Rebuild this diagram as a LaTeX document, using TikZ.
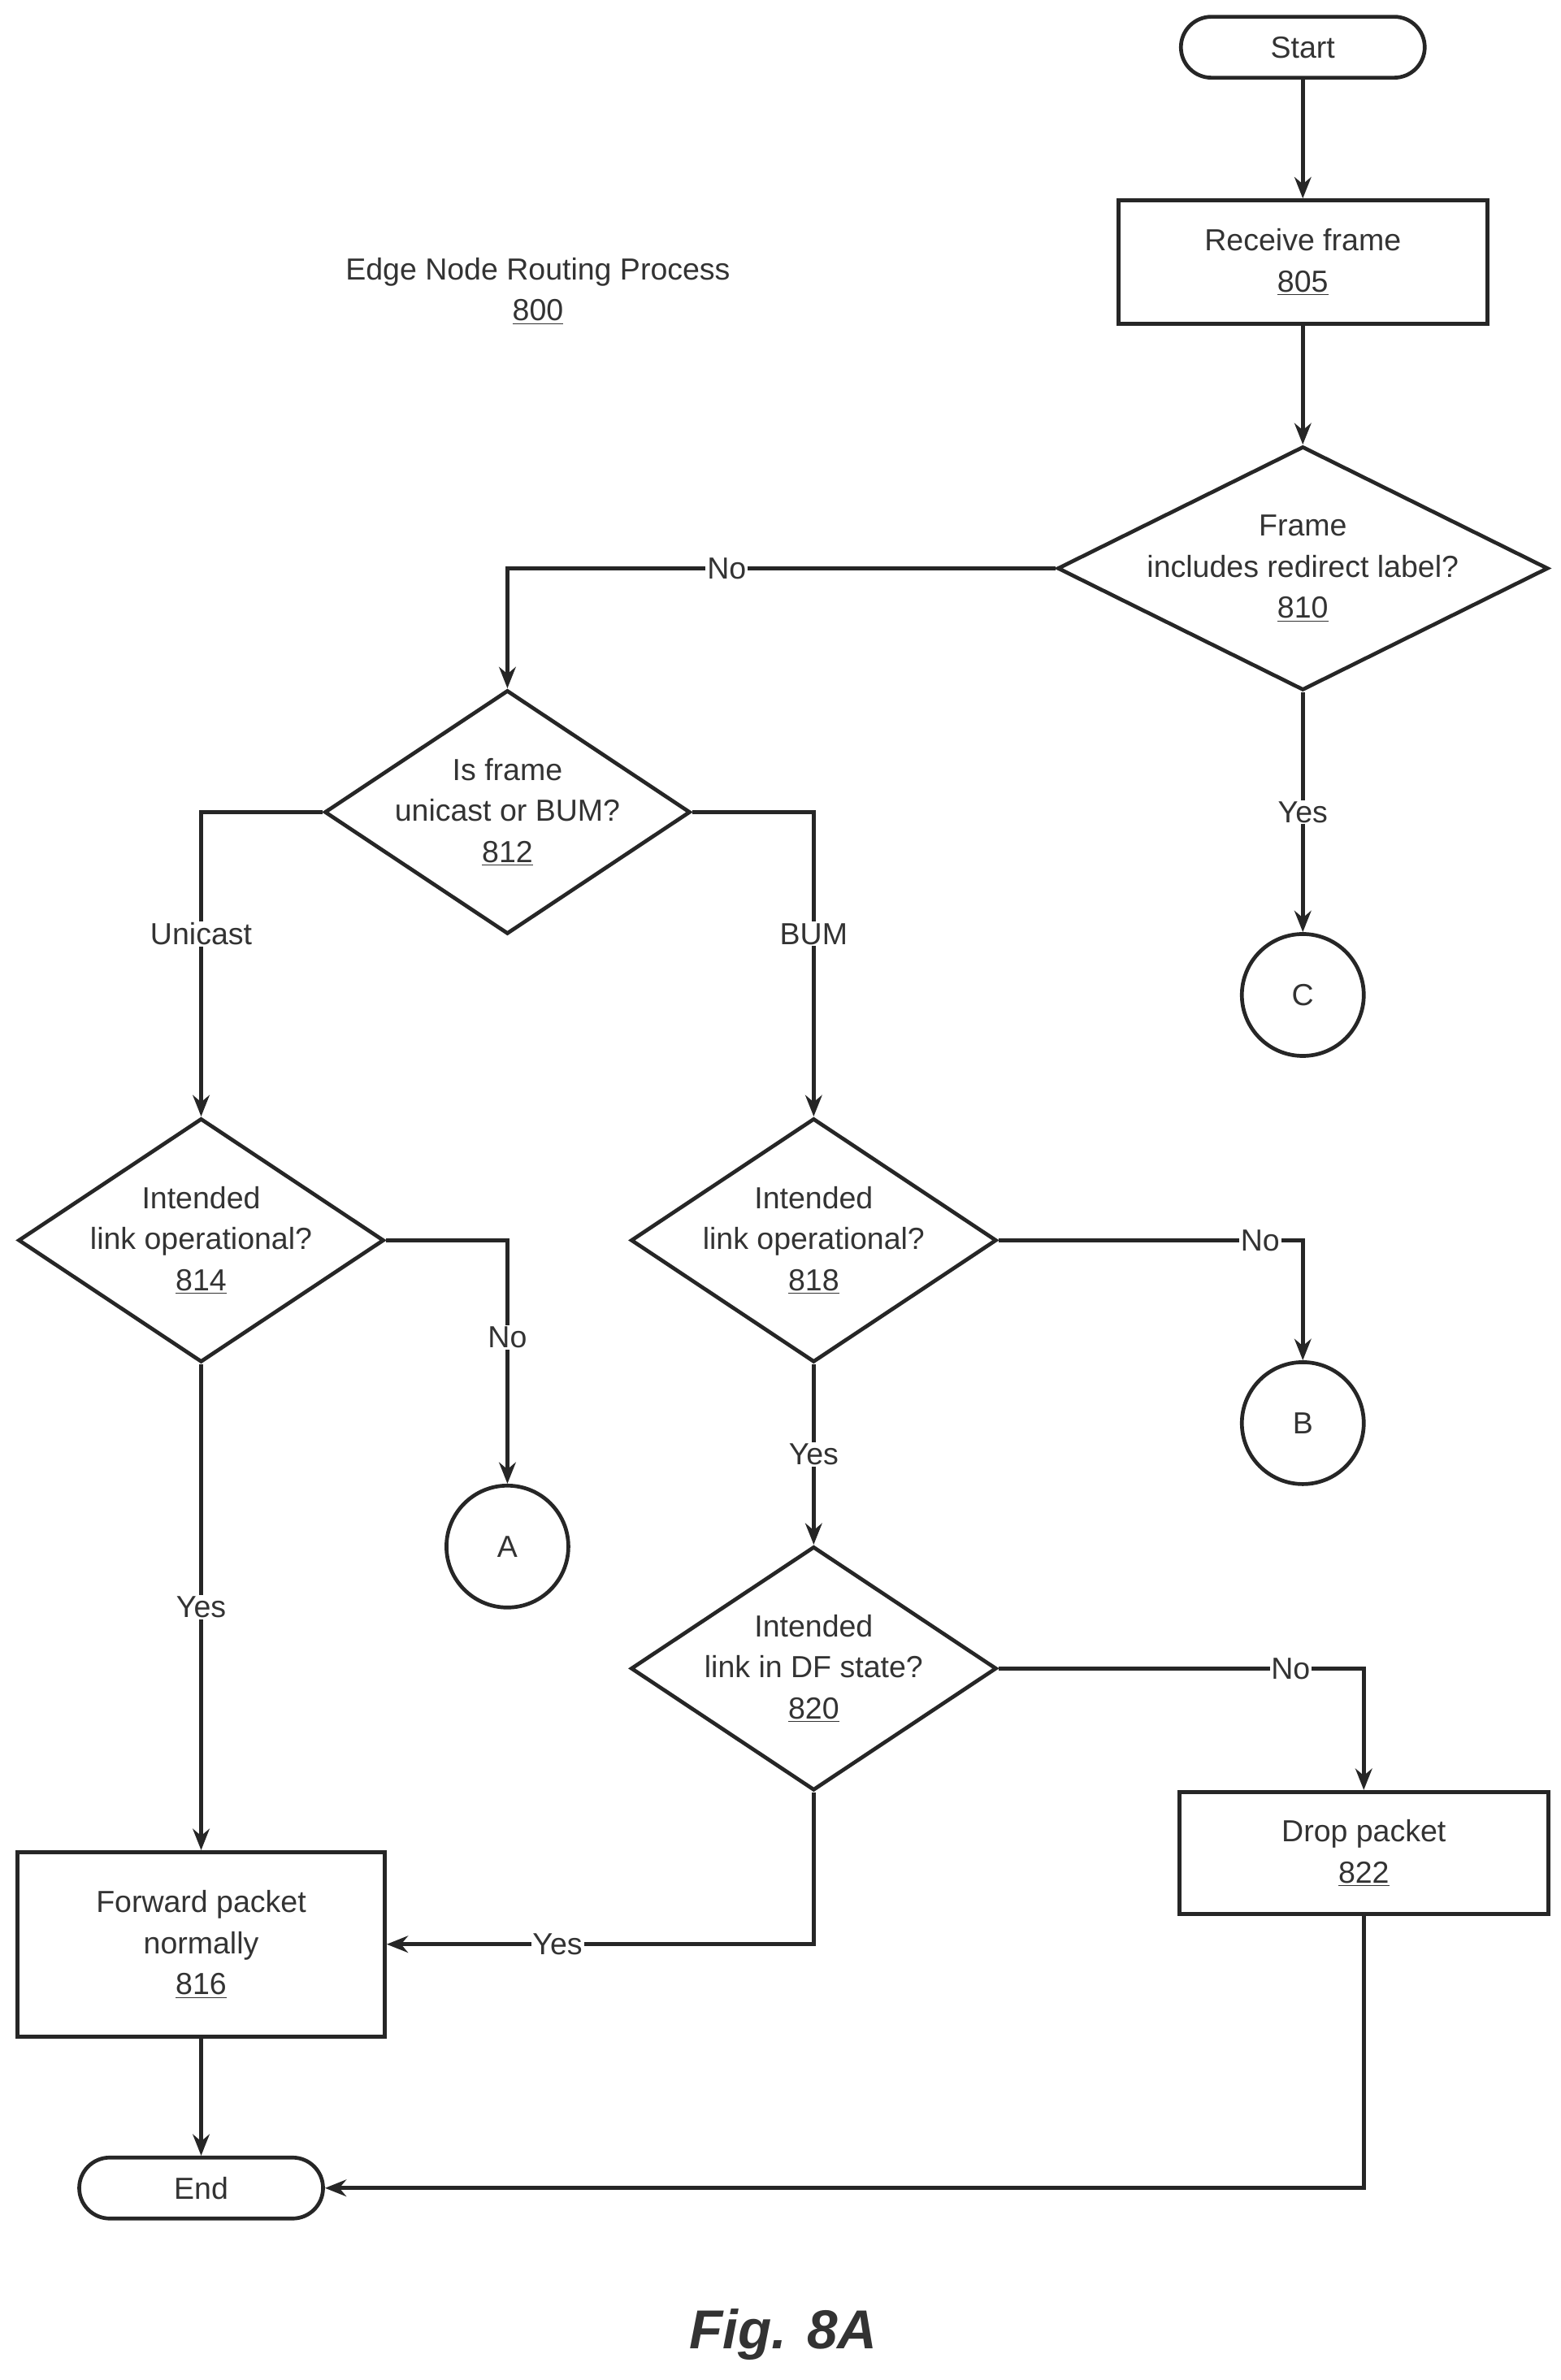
\documentclass[tikz,border=0pt]{standalone}
\usepackage{fontspec}
\setmainfont{Liberation Sans}
\usetikzlibrary{shapes.geometric,arrows.meta}
\begin{document}
\begin{tikzpicture}[x=1pt,y=-1pt,
  every node/.style={font=\fontsize{20}{27}\selectfont, text=black!80},
  ln/.style={line width=2.5pt, draw=black!85},
  arr/.style={ln,-{Stealth[length=14pt,width=11pt]}},
  box/.style={ln, draw, rectangle, inner sep=0},
  dia/.style={ln, draw, diamond, inner sep=0, minimum width=240, minimum height=160},
  circ/.style={ln, draw, circle, inner sep=0, minimum size=80},
  pill/.style={ln, draw, rounded rectangle, inner sep=0, minimum width=160, minimum height=40},
  lab/.style={fill=white, inner sep=1pt}]
\useasboundingbox (0,0) rectangle (1024,1562);
\tikzset{rounded rectangle/.style={rounded corners=20pt, rectangle}}
\node[pill] (start) at (855,31) {Start};
\node[box, minimum width=242, minimum height=81] (recv) at (855,172) {};
\node[align=center] at (recv) {Receive frame\\\underline{805}};
\node[dia, minimum width=322] (d810) at (855,373) {};
\node[align=center] at (d810) {Frame\\includes redirect label?\\\underline{810}};
\node[dia] (d812) at (333,533) {};
\node[align=center] at (d812) {Is frame\\unicast or BUM?\\\underline{812}};
\node[circ] (C) at (855,653) {C};
\node[dia] (d814) at (132,814) {};
\node[align=center] at (d814) {Intended\\link operational?\\\underline{814}};
\node[dia] (d818) at (534,814) {};
\node[align=center] at (d818) {Intended\\link operational?\\\underline{818}};
\node[circ] (B) at (855,934) {B};
\node[circ] (A) at (333,1015) {A};
\node[dia] (d820) at (534,1095) {};
\node[align=center] at (d820) {Intended\\link in DF state?\\\underline{820}};
\node[box, minimum width=242, minimum height=80] (drop) at (895,1216) {};
\node[align=center] at (drop) {Drop packet\\\underline{822}};
\node[box, minimum width=241, minimum height=121] (fwd) at (132,1276) {};
\node[align=center] at (fwd) {Forward packet\\normally\\\underline{816}};
\node[pill] (end) at (132,1436) {End};
\node[align=center] (title) at (353,191) {Edge Node Routing Process\\\underline{800}};
\node[font=\fontsize{36}{40}\selectfont\bfseries\itshape] (fig) at (514,1532) {Fig. 8A};

\draw[arr] (start) -- (recv);
\draw[arr] (recv) -- (d810);
\draw[arr] (d810.west) -| node[lab, pos=0.3] {No} (d812.north);
\draw[arr] (d810.south) -- node[lab, pos=0.5] {Yes} (C.north);
\draw[arr] (d812.west) -| node[lab, pos=0.7] {Unicast} (d814.north);
\draw[arr] (d812.east) -| node[lab, pos=0.7] {BUM} (d818.north);
\draw[arr] (d814.east) -| node[lab, pos=0.7] {No} (A.north);
\draw[arr] (d814.south) -- node[lab, pos=0.5] {Yes} (fwd.north);
\draw[arr] (d818.east) -| node[lab, pos=0.43] {No} (B.north);
\draw[arr] (d818.south) -- node[lab, pos=0.5] {Yes} (d820.north);
\draw[arr] (d820.east) -| node[lab, pos=0.4] {No} (drop.north);
\draw[arr] (d820.south) |- node[lab, pos=0.8] {Yes} (fwd.east);
\draw[arr] (fwd) -- (end);
\draw[arr] (drop.south) |- (end.east);
\end{tikzpicture}
\end{document}
